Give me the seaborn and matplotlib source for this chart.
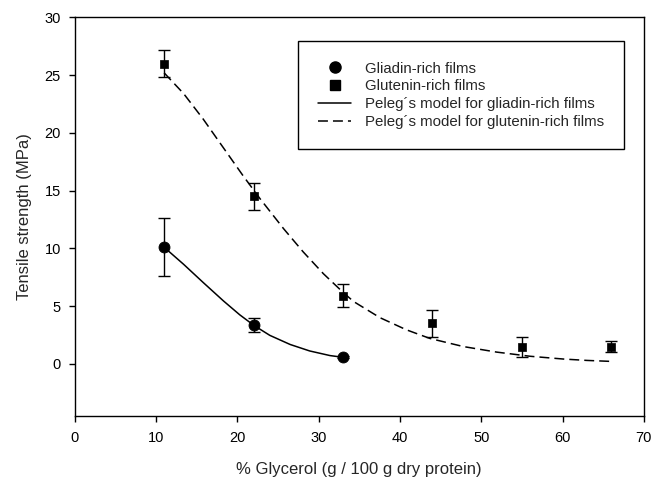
import matplotlib
matplotlib.use("Agg")
import matplotlib.pyplot as plt
from matplotlib.lines import Line2D
import seaborn as sns
import pandas as pd

# Measured data
glycerol_gli = [11, 22, 33]
ts_gli = [10.15, 3.4, 0.57]
err_gli = [2.5, 0.6, 0.1]

glycerol_glu = [11, 22, 33, 44, 55, 66]
ts_glu = [26.0, 14.5, 5.9, 3.5, 1.45, 1.5]
err_glu = [1.15, 1.15, 1.0, 1.15, 0.87, 0.45]

# Curves (Peleg's model)
curve_gli_x = [11, 13.4, 15.8, 18.3, 20.3, 22.05, 24.0, 26.5, 28.9, 31.4, 33.0]
curve_gli_y = [10.1, 8.62, 7.05, 5.45, 4.25, 3.33, 2.47, 1.68, 1.12, 0.72, 0.57]

curve_glu_x = [11, 13.4, 15.8, 18.3, 20.7, 22.8, 25.7, 28.1, 30.6, 33.0, 34.3, 37.55,
               40.8, 43.7, 47.8, 51.9, 56.0, 60.1, 63.0, 65.8]
curve_glu_y = [25.2, 23.4, 21.2, 18.7, 16.3, 14.3, 11.7, 9.7, 7.8, 6.2, 5.4, 4.0,
               2.95, 2.2, 1.5, 1.02, 0.66, 0.42, 0.3, 0.22]

sns.set_style("ticks")
plt.rcParams['font.family'] = ['Liberation Sans', 'DejaVu Sans']

fig = plt.figure(figsize=(6.55, 4.83), dpi=100)
ax = fig.add_axes([0.114, 0.139, 0.869, 0.825])

df_gli = pd.DataFrame({"x": curve_gli_x, "y": curve_gli_y})
df_glu = pd.DataFrame({"x": curve_glu_x, "y": curve_glu_y})
sns.lineplot(data=df_gli, x="x", y="y", ax=ax, color="black", lw=1.1, sort=True, estimator=None)
sns.lineplot(data=df_glu, x="x", y="y", ax=ax, color="black", lw=1.1, sort=True, estimator=None)
ax.lines[-1].set_dashes((6.5, 3.3))

ax.errorbar(glycerol_gli, ts_gli, yerr=err_gli, fmt="none", ecolor="black",
            elinewidth=1, capsize=4, capthick=1, zorder=3)
ax.errorbar(glycerol_glu, ts_glu, yerr=err_glu, fmt="none", ecolor="black",
            elinewidth=1, capsize=4, capthick=1, zorder=3)

sns.scatterplot(x=glycerol_gli, y=ts_gli, ax=ax, marker="o", s=62, color="black",
                edgecolor="black", zorder=4)
sns.scatterplot(x=glycerol_glu, y=ts_glu, ax=ax, marker="s", s=40, color="black",
                edgecolor="black", zorder=4)

ax.set_xlim(0, 70)
ax.set_ylim(-4.5, 30)
ax.set_xticks(range(0, 71, 10))
ax.set_yticks(range(0, 31, 5))
for s in ax.spines.values():
    s.set_visible(True)
    s.set_color("black")
    s.set_linewidth(1)
ax.tick_params(axis="both", direction="out", length=4, width=1, labelsize=10.5,
               colors="black", top=False, right=False)
ax.tick_params(axis="y", pad=6)
ax.tick_params(axis="x", pad=7)
ax.set_xlabel("% Glycerol (g / 100 g dry protein)", fontsize=12, labelpad=12)
ax.set_ylabel("Tensile strength (MPa)", fontsize=12, labelpad=9)

handles = [
    Line2D([], [], marker="o", color="black", ls="none", markersize=8),
    Line2D([], [], marker="s", color="black", ls="none", markersize=6.5),
    Line2D([], [], color="black", lw=1.1),
    Line2D([], [], color="black", lw=1.1, dashes=(6.5, 3.3)),
]
labels = ["Gliadin-rich films", "Glutenin-rich films",
          "Peleg\u00b4s model for gliadin-rich films",
          "Peleg\u00b4s model for glutenin-rich films"]
leg = ax.legend(handles, labels, loc="upper right", bbox_to_anchor=(0.965, 0.94),
                fontsize=10.8, frameon=True, fancybox=False, edgecolor="black",
                framealpha=1, handlelength=2.2, borderpad=1.35, labelspacing=0.25,
                handletextpad=0.9, borderaxespad=0)
leg.get_frame().set_linewidth(1)

fig.savefig("out.png", dpi=100)
